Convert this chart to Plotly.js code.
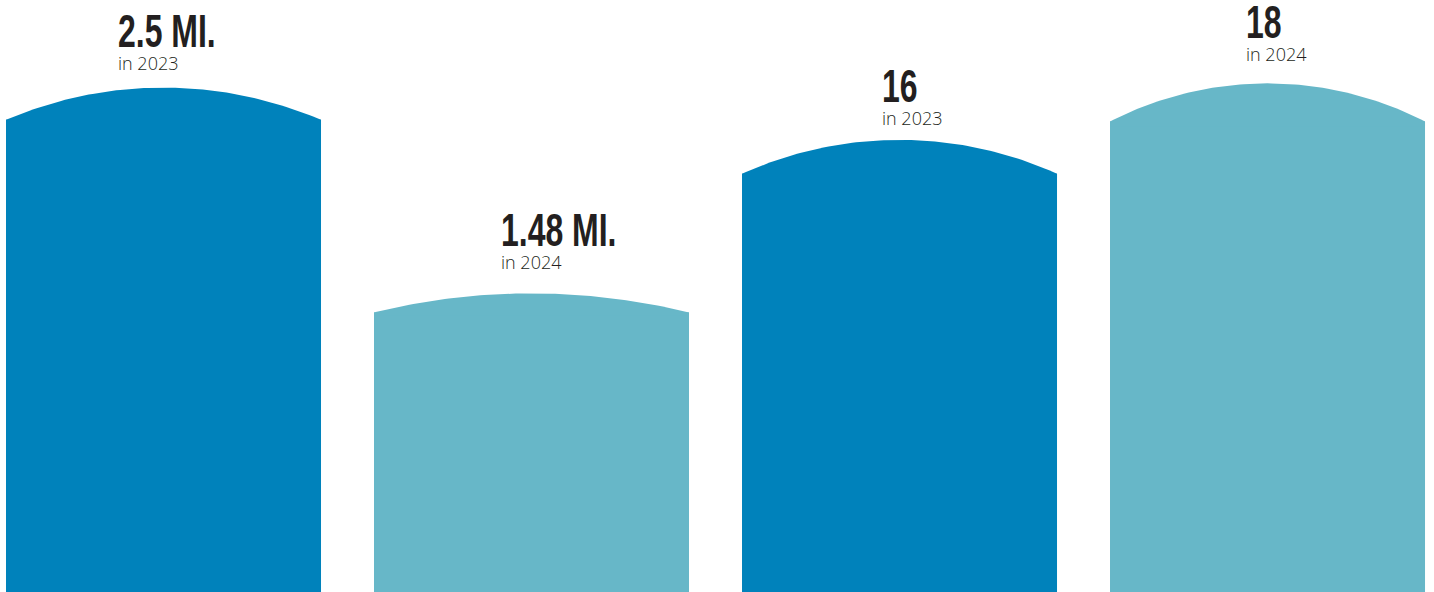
<!DOCTYPE html>
<html>
<head>
<meta charset="utf-8">
<script src="https://cdn.plot.ly/plotly-3.0.1.min.js"></script>
<style>
html,body{margin:0;padding:0;background:#fff;}
#chart{width:1434px;height:592px;}
</style>
</head>
<body>
<div id="chart"></div>
<script>
// ---- data ----
const labels = ["2.5 MI.", "1.48 MI.", "16", "18"];
const years = ["in 2023", "in 2024", "in 2023", "in 2024"];
const values = [2.5, 1.48, 16, 18];
const groups = [0, 0, 1, 1];          // 0 = miles axis, 1 = count axis

// ---- style ----
const colors = ["#0082bb", "#67b7c8", "#0082bb", "#67b7c8"];
const W = 1434, H = 592;
const barWidth = 0.856;
const xRange = [-0.4443, 3.4524];
const yMax = [2.934, 20.95];
const archFrac = [0.064, 0.075];
const labelDx = [-48, -33, -20, -24];
const labelDy = [11, 17, 8, 15];
const condense = 0.695;

const plotW = W, plotH = H;
const pxPerX = plotW / (xRange[1] - xRange[0]);

const traces = [];
const annotations = [];
values.forEach((v, i) => {
  const g = groups[i];
  const yax = g === 0 ? 'y' : 'y2';
  const f = archFrac[g];
  const shoulder = v * (1 - f);
  traces.push({
    type: 'bar', x: [i], y: [shoulder], width: barWidth, yaxis: yax,
    marker: {color: colors[i], line: {width: 0}}, hoverinfo: 'skip', showlegend: false
  });
  // arched cap (circular arc in pixel space)
  const peakPx = v / yMax[g] * plotH;
  const s = f * peakPx;
  const a = barWidth * pxPerX / 2;
  const R = (a * a + s * s) / (2 * s);
  const xs = [], ys = [];
  const N = 80;
  const base = shoulder - v * 0.01;
  xs.push(i - barWidth / 2); ys.push(base);
  for (let k = 0; k <= N; k++) {
    const dx = -a + 2 * a * k / N;
    const h = Math.sqrt(R * R - dx * dx) - (R - s);
    xs.push(i + dx / pxPerX);
    ys.push(shoulder + h / peakPx * v);
  }
  xs.push(i + barWidth / 2); ys.push(base);
  xs.push(i - barWidth / 2); ys.push(base);
  traces.push({
    type: 'scatter', mode: 'lines', x: xs, y: ys, yaxis: yax, fill: 'toself',
    fillcolor: colors[i], line: {width: 0, color: colors[i]}, hoverinfo: 'skip', showlegend: false
  });
  annotations.push({
    x: i, y: v, xref: 'x', yref: yax,
    text: "<span style='font-family:Liberation Sans,Arial,sans-serif;font-weight:bold;font-size:46px'>" +
          labels[i] + "</span><br>" + years[i],
    showarrow: false, align: 'left',
    xanchor: 'left', yanchor: 'bottom', xshift: labelDx[i], yshift: labelDy[i],
    font: {family: 'Open Sans, sans-serif', size: 18, color: '#231f20', weight: 300}
  });
});

const layout = {
  width: W, height: H,
  margin: {l: 0, r: 0, t: 0, b: 0, pad: 0},
  paper_bgcolor: '#ffffff', plot_bgcolor: '#ffffff',
  barmode: 'overlay',
  xaxis: {range: xRange, visible: false, fixedrange: true},
  yaxis: {range: [0, yMax[0]], visible: false, fixedrange: true},
  yaxis2: {range: [0, yMax[1]], visible: false, overlaying: 'y', fixedrange: true},
  annotations: annotations,
  showlegend: false
};

Plotly.newPlot('chart', traces, layout, {displayModeBar: false, staticPlot: true}).then(gd => {
  // condense the headline numbers (narrow display face look)
  gd.querySelectorAll('.annotation-text').forEach(t => {
    const first = t.querySelector('tspan.line');
    if (!first) return;
    const w = first.getComputedTextLength();
    first.setAttribute('textLength', (w * condense).toFixed(1));
    first.setAttribute('lengthAdjust', 'spacingAndGlyphs');
  });
});
</script>
</body>
</html>
